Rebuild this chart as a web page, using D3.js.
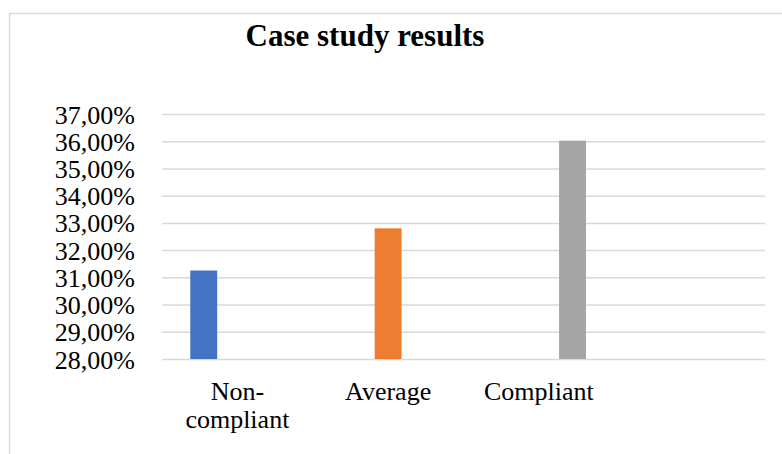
<!DOCTYPE html>
<html>
<head>
<meta charset="utf-8">
<script src="https://cdn.jsdelivr.net/npm/d3@7"></script>
<style>
  html, body { margin: 0; padding: 0; background: #fff; overflow: hidden; }
  svg { display: block; font-family: "Liberation Serif", "Times New Roman", serif; }
</style>
</head>
<body>
<svg id="chart" width="782" height="454"></svg>
<script>
// categories along x (the fourth slot is empty in the original)
const categories = ['Non-compliant', 'Average', 'Compliant', ''];
const seriesNames = ['Non-compliant', 'Average', 'Compliant'];
// one series per group, each only filled in its own category
const seriesNonCompliant = [0.3125, null, null, null];
const seriesAverage = [null, 0.328, null, null];
const seriesCompliant = [null, null, 0.3602, null];
const seriesColors = ['#4472c4', '#ed7d31', '#a5a5a5'];
const yTicks = [0.28, 0.29, 0.30, 0.31, 0.32, 0.33, 0.34, 0.35, 0.36, 0.37];
const title = 'Case study results';

const allSeries = [seriesNonCompliant, seriesAverage, seriesCompliant];

const svg = d3.select('#chart');
const margin = {left: 162, right: 17, top: 114, bottom: 95};
const W = 782, H = 454;

// outer chart frame, runs off the right and bottom edge like the source
svg.append('rect')
  .attr('x', 9.5).attr('y', 13.5)
  .attr('width', 900).attr('height', 600)
  .attr('fill', 'none')
  .attr('stroke', '#d9d9d9')
  .attr('stroke-width', 1.5);

svg.append('text')
  .attr('x', 365)
  .attr('y', 46)
  .attr('text-anchor', 'middle')
  .style('font-size', '31px')
  .style('font-weight', 'bold')
  .text(title);

const x0 = d3.scaleBand()
  .domain(d3.range(categories.length))
  .range([margin.left, W - margin.right])
  .padding(0);

const x1 = d3.scaleBand()
  .domain(d3.range(seriesNames.length))
  .range([0, x0.bandwidth()])
  .paddingInner(0.2)
  .paddingOuter(0.84);

const y = d3.scaleLinear()
  .domain([0.28, 0.37])
  .range([H - margin.bottom, margin.top]);

const locale = d3.formatLocale({decimal: ',', thousands: '.', grouping: [3], currency: ['', '']});
const fmt = locale.format('.2%');

// y axis + gridlines
const yAxis = svg.append('g')
  .attr('transform', `translate(${margin.left},0)`)
  .call(d3.axisLeft(y)
    .tickValues(yTicks)
    .tickSize(-(W - margin.left - margin.right))
    .tickPadding(27)
    .tickFormat(fmt));
yAxis.select('.domain').remove();
yAxis.selectAll('.tick line')
  .attr('stroke', '#d9d9d9')
  .attr('stroke-width', 1.5);
yAxis.selectAll('.tick text')
  .attr('fill', '#000')
  .attr('dy', '0.35em')
  .style('font-size', '26px')
  .style('font-family', '"Liberation Serif", "Times New Roman", serif');

// bars
const groups = svg.append('g').selectAll('g')
  .data(categories.map((c, i) => ({i, values: allSeries.map((s, k) => ({k, v: s[i]}))})))
  .join('g')
  .attr('transform', d => `translate(${x0(d.i)},0)`);

groups.selectAll('rect')
  .data(d => d.values.filter(v => v.v != null))
  .join('rect')
  .attr('x', d => x1(d.k))
  .attr('width', x1.bandwidth())
  .attr('y', d => y(d.v))
  .attr('height', d => y(0.28) - y(d.v))
  .attr('fill', d => seriesColors[d.k]);

// x labels, wrapped at the hyphen when too wide for the band
const xLabels = svg.append('g').selectAll('text')
  .data(categories)
  .join('text')
  .attr('x', (d, i) => x0(i) + x0.bandwidth() / 2)
  .attr('y', 400)
  .attr('text-anchor', 'middle')
  .style('font-size', '26px')
  .text(d => d);

xLabels.each(function(d, i) {
  const el = d3.select(this);
  if (this.getComputedTextLength() <= x0.bandwidth() || d.indexOf('-') < 0) return;
  const cut = d.indexOf('-') + 1;
  const cx = x0(i) + x0.bandwidth() / 2;
  el.text(null);
  el.append('tspan').attr('x', cx).text(d.slice(0, cut));
  el.append('tspan').attr('x', cx).attr('dy', 28).text(d.slice(cut));
});
</script>
</body>
</html>
